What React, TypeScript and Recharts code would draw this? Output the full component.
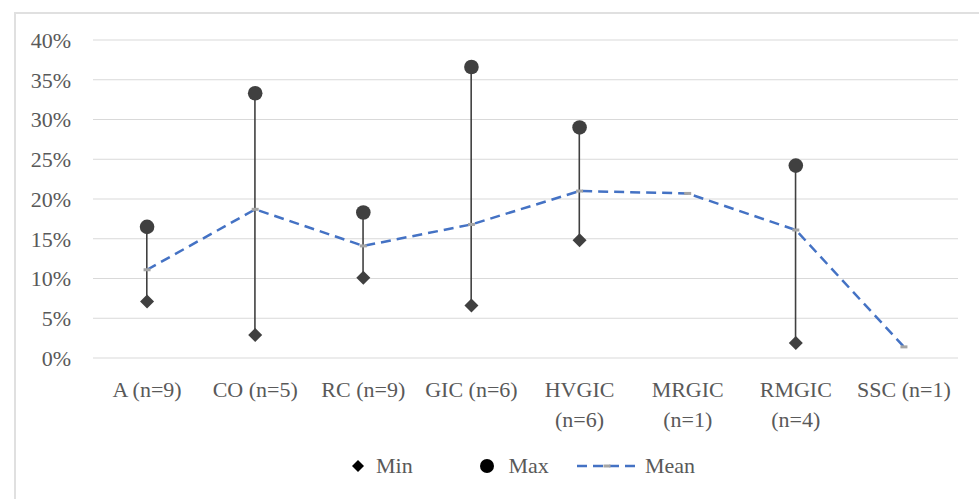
import React from "react";
import {
  ComposedChart,
  Bar,
  Line,
  XAxis,
  YAxis,
  CartesianGrid,
  Legend,
} from "recharts";

// valores (em %)
const categories = [
  "A (n=9)",
  "CO (n=5)",
  "RC (n=9)",
  "GIC (n=6)",
  "HVGIC (n=6)",
  "MRGIC (n=1)",
  "RMGIC (n=4)",
  "SSC (n=1)",
];
const minValues = [7.1, 2.9, 10.1, 6.6, 14.8, null, 1.9, null];
const maxValues = [16.5, 33.3, 18.3, 36.6, 29.0, null, 24.2, null];
const meanValues = [11.1, 18.7, 14.1, 16.8, 21.0, 20.7, 16.1, 1.4];
const yTicks = [0, 5, 10, 15, 20, 25, 30, 35, 40];

const data = categories.map((name, i) => ({
  name,
  min: minValues[i],
  max: maxValues[i],
  mean: meanValues[i],
  range: minValues[i] != null && maxValues[i] != null ? [minValues[i], maxValues[i]] : null,
}));

const TEXT = "#595959";
const DARK = "#404040";
const BLUE = "#4472C4";
const FONT = "'Liberation Serif', serif";

const Diamond = (props: any) => {
  const { cx, cy, key } = props;
  if (cy == null || isNaN(cy)) return <g key={key} />;
  return (
    <path
      key={key}
      d={`M${cx},${cy - 7} L${cx + 7},${cy} L${cx},${cy + 7} L${cx - 7},${cy} Z`}
      fill={DARK}
    />
  );
};

const Circle = (props: any) => {
  const { cx, cy, key } = props;
  if (cy == null || isNaN(cy)) return <g key={key} />;
  return <circle key={key} cx={cx} cy={cy} r={7.3} fill={DARK} />;
};

const MeanDot = (props: any) => {
  const { cx, cy, key } = props;
  if (cy == null || isNaN(cy)) return <g key={key} />;
  return <rect key={key} x={cx - 3.5} y={cy - 1.5} width={7} height={3} fill="#a5a5a5" />;
};

// quebra rótulos longos em duas linhas, como no Excel
const XTick = (props: any) => {
  const { x, y, payload } = props;
  const label: string = payload.value;
  const lines = label.length > 9 ? label.split(" ") : [label];
  return (
    <text x={x} y={y} textAnchor="middle" fill={TEXT} fontSize={22} fontFamily={FONT}>
      {lines.map((l, i) => (
        <tspan key={i} x={x} dy={i === 0 ? 39 : 30}>
          {l}
        </tspan>
      ))}
    </text>
  );
};

const LegendContent = () => (
  <div
    style={{
      height: 30,
      width: 979,
      display: "flex",
      alignItems: "center",
      paddingLeft: 351,
      boxSizing: "border-box",
      fontFamily: FONT,
      fontSize: 22,
      color: TEXT,
    }}
  >
    <div style={{ width: 127.5, display: "flex", alignItems: "center" }}>
      <svg width={14} height={14} style={{ marginRight: 11 }}>
        <path d="M7,1 L13,7 L7,13 L1,7 Z" fill="#000" />
      </svg>
      <span>Min</span>
    </div>
    <div style={{ width: 98.5, display: "flex", alignItems: "center" }}>
      <svg width={16} height={16} style={{ marginRight: 14 }}>
        <circle cx={8} cy={8} r={7} fill="#000" />
      </svg>
      <span>Max</span>
    </div>
    <div style={{ display: "flex", alignItems: "center" }}>
      <svg width={60} height={10} style={{ marginRight: 8 }}>
        <line x1={0} y1={5} x2={60} y2={5} stroke={BLUE} strokeWidth={2.5} strokeDasharray="10 6" />
        <rect x={26.5} y={3.5} width={7} height={3} fill="#a5a5a5" />
      </svg>
      <span>Mean</span>
    </div>
  </div>
);

export default function App() {
  return (
    <div
      style={{
        position: "absolute",
        left: 0,
        top: 0,
        width: 979,
        height: 499,
        overflow: "hidden",
        background: "#fff",
      }}
    >
      <div
        style={{
          position: "absolute",
          left: 14,
          top: 12,
          width: 1000,
          height: 600,
          border: "2px solid #e0e0e0",
        }}
      />
      <div style={{ position: "absolute", left: 0, top: 0 }}>
        <ComposedChart
          width={979}
          height={499}
          data={data}
          margin={{ top: 40, right: 21, bottom: 18, left: 0 }}
        >
          <CartesianGrid vertical={false} stroke="#d9d9d9" strokeWidth={1.2} />
          <XAxis
            dataKey="name"
            axisLine={false}
            tickLine={false}
            tickSize={0}
            tickMargin={0}
            height={93}
            interval={0}
            tick={<XTick />}
          />
          <YAxis
            domain={[0, 40]}
            ticks={yTicks}
            width={93}
            axisLine={false}
            tickLine={false}
            tickSize={0}
            tickMargin={22}
            tickFormatter={(v) => `${v}%`}
            tick={{ fill: TEXT, fontSize: 22, fontFamily: FONT }}
          />
          <Legend verticalAlign="bottom" content={<LegendContent />} wrapperStyle={{ left: 0, width: 979 }} />
          <Bar dataKey="range" barSize={1.6} fill={DARK} isAnimationActive={false} legendType="none" />
          <Line
            dataKey="mean"
            type="linear"
            stroke={BLUE}
            strokeWidth={2.5}
            strokeDasharray="10 6"
            dot={<MeanDot />}
            activeDot={false}
            isAnimationActive={false}
          />
          <Line
            dataKey="min"
            stroke="none"
            dot={<Diamond />}
            activeDot={false}
            isAnimationActive={false}
          />
          <Line
            dataKey="max"
            stroke="none"
            dot={<Circle />}
            activeDot={false}
            isAnimationActive={false}
          />
        </ComposedChart>
      </div>
    </div>
  );
}
